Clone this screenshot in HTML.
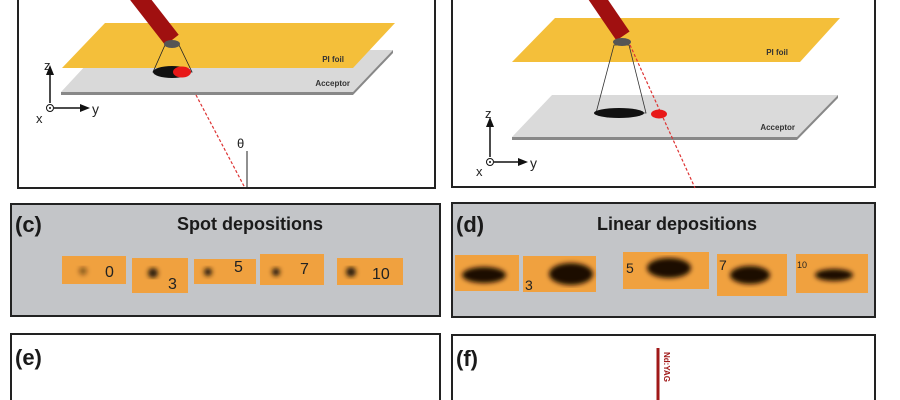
<!DOCTYPE html>
<html><head><style>
body{margin:0;width:900px;height:400px;background:#fff;overflow:hidden;position:relative;font-family:"Liberation Sans",sans-serif}
</style></head><body>
<svg width="900" height="400" style="position:absolute;left:0;top:0" font-family="Liberation Sans, sans-serif">
<defs>
<filter id="bl"><feGaussianBlur stdDeviation="2.5"/></filter>
<filter id="bl1"><feGaussianBlur stdDeviation="0.6"/></filter>
</defs>
<!-- panel a -->
<rect x="18" y="-5" width="417" height="193" fill="#fff" stroke="#222" stroke-width="2"/>
<polygon points="100,50 393,50 353,92 61,92" fill="#d9d9d9"/>
<polygon points="61,92 353,92 353,95 61,95" fill="#888"/>
<polygon points="393,50 393,53 353,95 353,92" fill="#888"/>
<polygon points="105,23 395,23 353,68 62,68" fill="#f4bf3a"/>
<text x="344" y="62" font-size="8" font-weight="bold" text-anchor="end" fill="#333">PI foil</text>
<text x="350" y="86" font-size="8" font-weight="bold" text-anchor="end" fill="#333">Acceptor</text>
<polygon points="165,45 179,45 192,72 153,72" fill="none" stroke="#222" stroke-width="0.8"/>
<ellipse cx="172" cy="72" rx="19" ry="6" fill="#111"/>
<ellipse cx="182" cy="72" rx="9" ry="5.5" fill="#e81818"/>
<line x1="137" y1="-5" x2="172" y2="40" stroke="#a01010" stroke-width="17"/>
<ellipse cx="172" cy="44" rx="8" ry="4" fill="#555"/>
<line x1="196" y1="95" x2="245" y2="188" stroke="#d33" stroke-width="1.2" stroke-dasharray="3,2"/>
<line x1="247" y1="151" x2="247" y2="188" stroke="#222" stroke-width="1"/>
<text x="237" y="148" font-size="13" fill="#222">θ</text>
<line x1="50" y1="103" x2="50" y2="72" stroke="#111" stroke-width="1.5"/><polygon points="46,75 54,75 50,65" fill="#111"/>
<line x1="54" y1="108" x2="82" y2="108" stroke="#111" stroke-width="1.5"/><polygon points="80,104 80,112 90,108" fill="#111"/>
<circle cx="50" cy="108" r="3.5" fill="#fff" stroke="#111"/><circle cx="50" cy="108" r="1" fill="#111"/>
<text x="44" y="70" font-size="13" fill="#222">z</text><text x="92" y="114" font-size="14" fill="#222">y</text><text x="36" y="123" font-size="13" fill="#222">x</text>
<!-- panel b -->
<rect x="452" y="-5" width="423" height="192" fill="#fff" stroke="#222" stroke-width="2"/>
<polygon points="552,95 838,95 797,137 512,137" fill="#dadada"/>
<polygon points="512,137 797,137 797,140 512,140" fill="#888"/>
<polygon points="838,95 838,98 797,140 797,137" fill="#888"/>
<text x="795" y="130" font-size="8" font-weight="bold" text-anchor="end" fill="#333">Acceptor</text>
<polygon points="555,18 840,18 800,62 512,62" fill="#f4bf3a"/>
<text x="788" y="55" font-size="8" font-weight="bold" text-anchor="end" fill="#333">PI foil</text>
<polygon points="614,45 629,45 646,113 596,113" fill="none" stroke="#333" stroke-width="0.8"/>
<line x1="630" y1="45" x2="695" y2="188" stroke="#d33" stroke-width="1.2" stroke-dasharray="3,2"/>
<ellipse cx="619" cy="113" rx="25" ry="5" fill="#111"/>
<ellipse cx="659" cy="114" rx="8" ry="4.5" fill="#e81818"/>
<line x1="595" y1="-5" x2="623" y2="36" stroke="#a01010" stroke-width="16"/>
<ellipse cx="622" cy="42" rx="9" ry="4" fill="#555"/>
<line x1="490" y1="157" x2="490" y2="125" stroke="#111" stroke-width="1.5"/><polygon points="486,127 494,127 490,117" fill="#111"/>
<line x1="494" y1="162" x2="520" y2="162" stroke="#111" stroke-width="1.5"/><polygon points="518,158 518,166 528,162" fill="#111"/>
<circle cx="490" cy="162" r="3.5" fill="#fff" stroke="#111"/><circle cx="490" cy="162" r="1" fill="#111"/>
<text x="485" y="118" font-size="13" fill="#222">z</text><text x="530" y="168" font-size="14" fill="#222">y</text><text x="476" y="176" font-size="13" fill="#222">x</text>
<!-- panel c -->
<rect x="11" y="204" width="429" height="112" fill="#c3c5c8" stroke="#222" stroke-width="2"/>
<text x="15" y="232" font-size="22" font-weight="bold" fill="#1a1a1a">(c)</text>
<text x="250" y="230" font-size="18" font-weight="bold" fill="#1a1a1a" text-anchor="middle">Spot depositions</text>
<g fill="#f0a13f">
<rect x="62" y="256" width="64" height="28"/><rect x="132" y="258" width="56" height="35"/><rect x="194" y="259" width="62" height="25"/><rect x="260" y="254" width="64" height="31"/><rect x="337" y="258" width="66" height="27"/>
</g>
<g filter="url(#bl)" fill="#2a1a0a"><circle cx="83" cy="271" r="4" opacity=".5"/><circle cx="153" cy="273" r="5"/><circle cx="208" cy="272" r="4"/><circle cx="276" cy="272" r="4"/><circle cx="351" cy="272" r="5"/></g>
<g font-size="16" fill="#222" font-family="Liberation Sans, sans-serif"><text x="105" y="277">0</text><text x="168" y="289">3</text><text x="234" y="272">5</text><text x="300" y="274">7</text><text x="372" y="279">10</text></g>
<!-- panel d -->
<rect x="452" y="203" width="423" height="114" fill="#c3c5c8" stroke="#222" stroke-width="2"/>
<text x="456" y="232" font-size="22" font-weight="bold" fill="#1a1a1a">(d)</text>
<text x="677" y="230" font-size="18" font-weight="bold" fill="#1a1a1a" text-anchor="middle">Linear depositions</text>
<g fill="#f0a13f">
<rect x="455" y="255" width="64" height="36"/><rect x="523" y="256" width="73" height="36"/><rect x="623" y="252" width="86" height="37"/><rect x="717" y="254" width="70" height="42"/><rect x="796" y="254" width="72" height="39"/>
</g>
<g filter="url(#bl)" fill="#1a0f05"><ellipse cx="484" cy="275" rx="22" ry="8"/><ellipse cx="571" cy="274" rx="22" ry="11"/><ellipse cx="669" cy="268" rx="22" ry="10"/><ellipse cx="750" cy="275" rx="20" ry="9"/><ellipse cx="834" cy="275" rx="19" ry="6"/></g>
<g font-size="14" fill="#222"><text x="525" y="290">3</text><text x="626" y="273">5</text><text x="719" y="270">7</text><text x="797" y="268" font-size="9">10</text></g>
<!-- panels e, f -->
<rect x="11" y="334" width="429" height="80" fill="#fff" stroke="#222" stroke-width="2"/>
<text x="15" y="365" font-size="22" font-weight="bold" fill="#1a1a1a">(e)</text>
<rect x="452" y="335" width="423" height="80" fill="#fff" stroke="#222" stroke-width="2"/>
<text x="456" y="366" font-size="22" font-weight="bold" fill="#1a1a1a">(f)</text>
<line x1="658" y1="348" x2="658" y2="402" stroke="#a01818" stroke-width="3"/>
<text transform="translate(664,352) rotate(90)" font-size="8" font-weight="bold" fill="#a01818">Nd:YAG</text>
</svg>
</body></html>
